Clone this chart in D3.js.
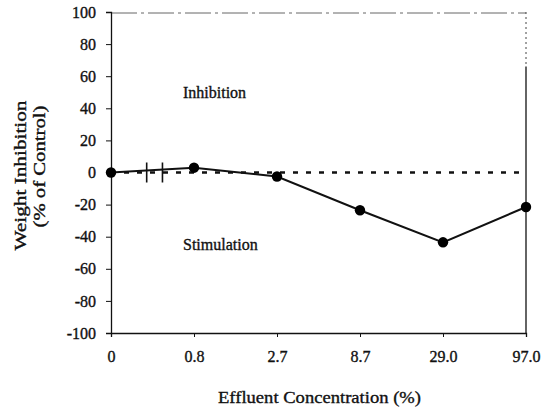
<!DOCTYPE html>
<html><head><meta charset="utf-8">
<script src="https://cdn.jsdelivr.net/npm/d3@7"></script>
<style>
html,body{margin:0;padding:0;background:#fff;}
svg{display:block;}
text{font-family:"Liberation Serif","Times New Roman","DejaVu Serif",serif;fill:#111;stroke:#111;stroke-width:0.35px;}
</style></head>
<body>
<svg id="chart" width="543" height="408"></svg>
<script>
const categories = ["0", "0.8", "2.7", "8.7", "29.0", "97.0"];
const inhibition = [0, 3, -2.5, -23.5, -43.5, -21.5];
const yTicks = [100, 80, 60, 40, 20, 0, -20, -40, -60, -80, -100];
const xTitle = "Effluent Concentration (%)";
const yTitle = ["Weight Inhibition", "(% of Control)"];
const regionLabels = [{text: "Inhibition", value: 50}, {text: "Stimulation", value: -45}];

const W = 543, H = 408;
const margin = {left: 111, right: 17, top: 12, bottom: 75};
const svg = d3.select("#chart");
const x = d3.scalePoint().domain(categories).range([margin.left, W - margin.right]);
const y = d3.scaleLinear().domain([-100, 100]).range([H - margin.bottom, margin.top]);
const xFirst = x(categories[0]), xLast = x(categories[categories.length - 1]);

// frame top (faint dashed) and right
svg.append("line").attr("x1", xFirst).attr("x2", xLast)
  .attr("y1", y(100) + 1).attr("y2", y(100) + 1).attr("stroke", "#666").attr("stroke-width", 1)
  .attr("stroke-dasharray", "26,4,3,4");
svg.append("line").attr("x1", xLast).attr("x2", xLast)
  .attr("y1", y(100)).attr("y2", y(66)).attr("stroke", "#444").attr("stroke-width", 1)
  .attr("stroke-dasharray", "2,3");
svg.append("line").attr("x1", xLast).attr("x2", xLast)
  .attr("y1", y(66)).attr("y2", y(-100)).attr("stroke", "#111").attr("stroke-width", 1.3);

// y axis
const yAxis = d3.axisLeft(y).tickValues(yTicks).tickSize(5).tickPadding(10)
  .tickFormat(d => String(d));
const gy = svg.append("g").attr("transform", `translate(${margin.left},0)`).call(yAxis);
gy.attr("font-family", null);
gy.select(".domain").attr("stroke", "#111").attr("stroke-width", 1.3);
gy.selectAll(".tick line").attr("stroke", "#111");
gy.selectAll(".tick text").attr("font-size", 16).attr("fill", "#111");

// x axis
const xAxis = d3.axisBottom(x).tickSize(4).tickPadding(14);
const gx = svg.append("g").attr("transform", `translate(0,${y(-100)})`).call(xAxis);
gx.attr("font-family", null);
gx.select(".domain").attr("stroke", "#111").attr("stroke-width", 1.3);
gx.selectAll(".tick line").attr("stroke", "#111");
gx.selectAll(".tick text").attr("font-size", 16).attr("fill", "#111");

// zero reference dashed line
svg.append("line").attr("x1", xFirst).attr("x2", xLast)
  .attr("y1", y(0)).attr("y2", y(0)).attr("stroke", "#111").attr("stroke-width", 2.4)
  .attr("stroke-dasharray", "5,8");

// data line
const line = d3.line().x((d, i) => x(categories[i])).y(d => y(d));
svg.append("path").datum(inhibition).attr("d", line).attr("fill", "none")
  .attr("stroke", "#111").attr("stroke-width", 2);

// axis break marks between first two categories
const step = x.step();
[0.43, 0.62].forEach(f => {
  const bx = xFirst + f * step;
  svg.append("line").attr("x1", bx).attr("x2", bx)
    .attr("y1", y(0) - 10).attr("y2", y(0) + 10).attr("stroke", "#111").attr("stroke-width", 1.6);
});

// points
svg.selectAll("circle.pt").data(inhibition).enter().append("circle")
  .attr("class", "pt").attr("cx", (d, i) => x(categories[i])).attr("cy", d => y(d))
  .attr("r", 5.2).attr("fill", "#000");

// region labels
svg.selectAll("text.region").data(regionLabels).enter().append("text")
  .attr("class", "region")
  .attr("x", x(categories[1]) - 11)
  .attr("y", d => y(d.value)).attr("dy", "0.35em").attr("text-anchor", "start")
  .attr("font-size", 16).text(d => d.text);

// axis titles
svg.append("text").attr("x", (xFirst + xLast) / 2 + 1)
  .attr("y", H - 5).attr("text-anchor", "middle").attr("font-size", 17)
  .attr("textLength", 203).attr("lengthAdjust", "spacingAndGlyphs").text(xTitle);
const yTitleLen = [150, 122];
const yTitleShift = [3, -6];
const yTitleX = [20, 39];
yTitle.forEach((t, i) => {
  svg.append("text")
    .attr("transform", `translate(${yTitleX[i]},${y(0) + yTitleShift[i]}) rotate(-90)`)
    .attr("text-anchor", "middle").attr("dy", "0.35em").attr("font-size", 16)
    .attr("textLength", yTitleLen[i]).attr("lengthAdjust", "spacingAndGlyphs").text(t);
});
</script>
</body></html>
